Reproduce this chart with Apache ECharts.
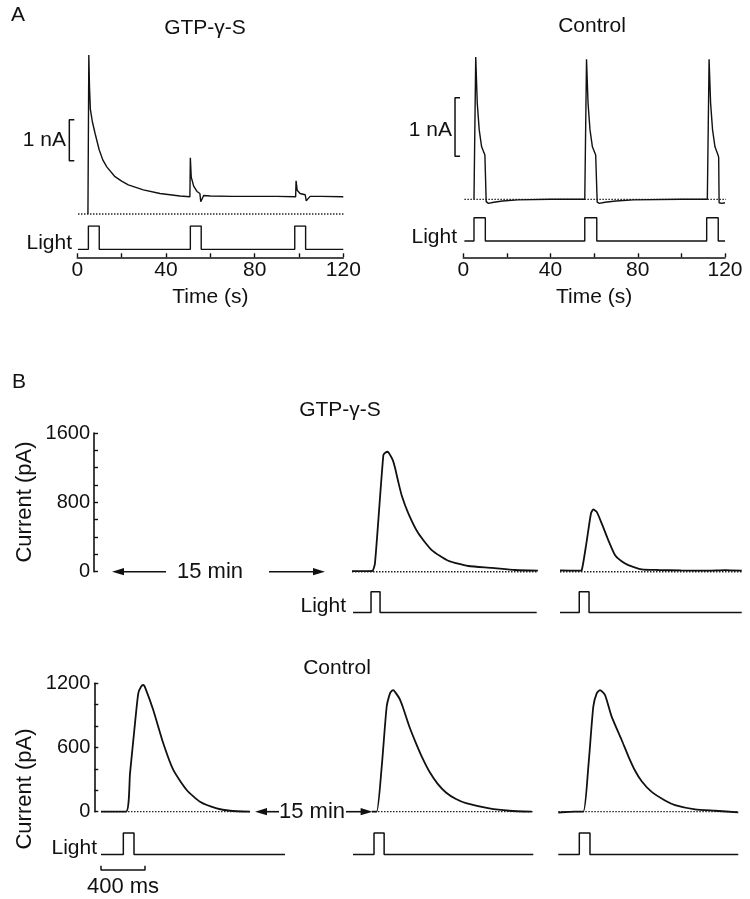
<!DOCTYPE html>
<html><head><meta charset="utf-8">
<script src="https://cdn.jsdelivr.net/npm/echarts@6/dist/echarts.min.js"></script>
<style>html,body{margin:0;padding:0;background:#fff}#c{width:750px;height:899px}</style>
</head><body><div id="c"></div>
<script>
// ===== Panel A : time (s), current (nA) =====
const gtpA_t  = [4.8, 5.0, 5.2, 5.5, 5.9, 6.8, 8.0, 9.9, 11.5, 13.3, 17, 20, 23, 29.8, 37.3, 46.3, 50.8, 51.0, 51.4, 52.5, 54, 55.3, 55.7, 56.2, 57, 60, 70, 80, 90, 98.5, 98.7, 99.2, 100.5, 102.8, 103.3, 104, 105, 110, 120];
const gtpA_nA = [0, 0, 3.88, 3.1, 2.55, 2.25, 1.97, 1.56, 1.32, 1.15, 0.91, 0.8, 0.71, 0.59, 0.5, 0.44, 0.42, 1.37, 0.9, 0.68, 0.55, 0.5, 0.3, 0.34, 0.45, 0.44, 0.43, 0.43, 0.43, 0.42, 0.81, 0.58, 0.5, 0.47, 0.32, 0.36, 0.43, 0.43, 0.42];
const ctlA_t  = [4.9, 5.7, 6.4, 7.3, 8.4, 9.9, 10.3, 10.5, 11.5, 14, 18, 25, 40, 55.7, 56.5, 57.2, 58.1, 59.2, 60.7, 61.2, 61.4, 62.4, 65, 70, 78, 100, 111.9, 112.7, 113.4, 114.3, 115.4, 116.8, 117.1, 117.3, 118.5, 120];
const ctlA_nA = [0, 2.44, 1.65, 1.19, 0.9, 0.76, 0.74, -0.04, -0.07, -0.05, -0.03, -0.01, 0, 0, 2.4, 1.65, 1.19, 0.9, 0.76, 0.74, -0.05, -0.07, -0.05, -0.03, -0.01, 0, 0, 2.4, 1.65, 1.19, 0.9, 0.76, 0.72, -0.06, -0.07, -0.06];
const gtpA_lightOn  = [5.0, 51.0, 98.1];
const gtpA_lightOff = [9.9, 55.9, 103.0];
const ctlA_lightOn  = [4.9, 55.7, 111.6];
const ctlA_lightOff = [10.1, 61.2, 116.9];
const timeTicksA = [0, 40, 80, 120];
const scaleBarA_nA = 1;

// ===== Panel B : time (ms from sweep start), current (pA) =====
const gtpB2_t  = [0, 150, 186, 209, 285, 305, 325, 345, 370, 391, 420, 452, 512, 603, 725, 875, 1057, 1270, 1482, 1690];
const gtpB2_pA = [8, 8, 10, 100, 1345, 1375, 1384, 1350, 1290, 1200, 1040, 880, 674, 443, 250, 127, 66, 45, 20, 12];
const gtpB3_t  = [0, 180, 197, 240, 282, 303, 334, 379, 439, 500, 560, 621, 742, 894, 1100, 1348, 1500, 1652];
const gtpB3_pA = [15, 12, 15, 330, 674, 718, 690, 557, 365, 192, 120, 77, 28, 20, 15, 12, 18, 12];
const ctlB1_t  = [0, 227, 264, 309, 339, 365, 385, 405, 475, 566, 657, 779, 900, 1052, 1173, 1355];
const ctlB1_pA = [0, 0, 361, 826, 1106, 1170, 1184, 1150, 950, 639, 390, 203, 93, 31, 9, 0];
const ctlB2_t  = [173, 215, 261, 306, 336, 352, 367, 385, 421, 452, 513, 573, 634, 694, 770, 845, 936, 1027, 1239, 1421, 1625];
const ctlB2_pA = [0, 0, 420, 981, 1106, 1130, 1137, 1115, 1060, 981, 794, 639, 495, 375, 260, 180, 118, 80, 31, 9, 0];
const ctlB3_t  = [0, 30, 152, 227, 273, 318, 349, 379, 425, 485, 576, 636, 697, 758, 849, 970, 1061, 1243, 1425, 1636];
const ctlB3_pA = [-9, -5, 0, 0, 420, 981, 1106, 1137, 1090, 888, 670, 520, 385, 285, 185, 105, 62, 22, 9, -6];
const gtpB_lightStart = [9, 0];
const gtpB_lightOn    = [173, 175];
const gtpB_lightOff   = [255, 264];
const gtpB_lightEnd   = [1679, 1652];
const gtpB_baseline   = [[0, 1690], [0, 1652]];
const ctlB_lightOn    = [203, 191, 191];
const ctlB_lightOff   = [300, 283, 288];
const ctlB_lightEnd   = [1673, 1639, 1636];
const ctlB_baseline   = [[0, 1355], [173, 1639], [0, 1636]];
const ticksB_gtp = [0, 800, 1600];
const ticksB_ctl = [0, 600, 1200];
const scaleBarB_ms = 400;

// ===== helpers =====
const INK = '#111';
const DOT = { type: [1.5, 1.5], width: 1.3, color: '#222' };
const FONT = "'Liberation Sans', Arial, Helvetica, sans-serif";
const zip = (a, b) => a.map((v, i) => [v, b[i]]);
function steps(start, on, off, end) {
  const p = [[start, 0]];
  on.forEach((t, i) => { p.push([t, 0], [t, 1], [off[i], 1], [off[i], 0]); });
  p.push([end, 0]);
  return p;
}
const grids = [], xAxes = [], yAxes = [], series = [];
function addGrid(g, x, y) {
  const i = grids.length;
  grids.push(Object.assign({ containLabel: false }, g));
  xAxes.push(Object.assign({ gridIndex: i, type: 'value', show: false }, x));
  yAxes.push(Object.assign({ gridIndex: i, type: 'value', show: false }, y));
  return i;
}
function line(i, data, style, extra) {
  series.push(Object.assign({
    type: 'line', xAxisIndex: i, yAxisIndex: i, data: data, symbol: 'none', showSymbol: false,
    silent: true, animation: false,
    lineStyle: Object.assign({ color: INK, width: 1.3 }, style)
  }, extra || {}));
}
function timeAxisA(ticks) {
  return {
    show: true, min: 0, max: 120, interval: 20, position: 'bottom',
    axisLine: { show: true, onZero: false, lineStyle: { color: INK, width: 1.6 } },
    axisTick: { show: true, inside: true, length: 4, lineStyle: { color: INK, width: 1.4 } },
    axisLabel: { show: true, margin: 2, color: INK, fontSize: 21, fontFamily: FONT,
      formatter: v => ticks.indexOf(v) >= 0 ? String(v) : '' },
    splitLine: { show: false },
    name: 'Time (s)', nameLocation: 'middle', nameGap: 29,
    nameTextStyle: { color: INK, fontSize: 21, fontFamily: FONT }
  };
}
function currentAxisB(max, ticks) {
  return {
    show: true, min: 0, max: max, interval: 200, position: 'left',
    axisLine: { show: true, onZero: false, lineStyle: { color: INK, width: 1.6 } },
    axisTick: { show: true, inside: true, length: 4, lineStyle: { color: INK, width: 1.4 } },
    axisLabel: { show: true, margin: 4, color: INK, fontSize: 20, fontFamily: FONT,
      formatter: v => ticks.indexOf(v) >= 0 ? String(v) : '' },
    splitLine: { show: false }
  };
}

// ===== Panel A left: GTP-γ-S (current axis starts 5 s before 0 to hold the scale bar) =====
const pxPerSecL = 266 / 120, pxPerSecR = 261.7 / 120;
let g = addGrid({ left: 77.3 - 5 * pxPerSecL, top: 50, width: 125 * pxPerSecL, height: 184.5 }, { min: -5, max: 120 }, { min: -0.5, max: 4 });
line(g, [[0.3, 0], [120.4, 0]], DOT);
line(g, zip(gtpA_t, gtpA_nA), { width: 1.4 });
line(g, [[-1.35, 1.3], [-3.6, 1.3], [-3.6, 1.3 + scaleBarA_nA], [-1.35, 1.3 + scaleBarA_nA]], { width: 1.5 });
g = addGrid({ left: 77.3, top: 226, width: 266, height: 31.3 }, timeAxisA(timeTicksA), { min: -0.34, max: 1 });
line(g, steps(0.3, gtpA_lightOn, gtpA_lightOff, 120), { width: 1.4 });

// ===== Panel A right: Control =====
g = addGrid({ left: 463.3 - 5 * pxPerSecR, top: 47.7, width: 125 * pxPerSecR, height: 169.1 }, { min: -5, max: 120 }, { min: -0.3, max: 2.6 });
line(g, [[0.5, 0], [120.5, 0]], DOT, { clip: false });
line(g, zip(ctlA_t, ctlA_nA), { width: 1.4 });
line(g, [[-1.5, 0.74], [-3.8, 0.74], [-3.8, 0.74 + scaleBarA_nA], [-1.5, 0.74 + scaleBarA_nA]], { width: 1.5 });
g = addGrid({ left: 463.3, top: 217.7, width: 261.7, height: 39.6 }, timeAxisA(timeTicksA), { min: -0.7, max: 1 });
line(g, steps(0.5, ctlA_lightOn, ctlA_lightOff, 120), { width: 1.4 });

// ===== Panel B top: GTP-γ-S =====
addGrid({ left: 94, top: 433, width: 240, height: 138.7 }, { min: 0, max: 1000 }, currentAxisB(1600, ticksB_gtp));
const gtpTraces = [zip(gtpB2_t, gtpB2_pA), zip(gtpB3_t, gtpB3_pA)];
[352, 560].forEach((left, k) => {
  const c = addGrid({ left: left, top: 433, width: 187, height: 147.4 }, { min: 0, max: 1700 }, { min: -100, max: 1600 });
  line(c, [[gtpB_baseline[k][0], 0], [gtpB_baseline[k][1], 0]], DOT);
  line(c, gtpTraces[k], { width: 1.8 }, { smooth: 0.2 });
  const l = addGrid({ left: left, top: 589.6, width: 187, height: 25 }, { min: 0, max: 1700 }, { min: -0.1, max: 1.1 });
  line(l, steps(gtpB_lightStart[k], [gtpB_lightOn[k]], [gtpB_lightOff[k]], gtpB_lightEnd[k]), { width: 1.5 });
});

// ===== Panel B bottom: Control =====
addGrid({ left: 94.3, top: 683.3, width: 10, height: 128.4 }, { min: 0, max: 1000 }, currentAxisB(1200, ticksB_ctl));
const ctlTraces = [zip(ctlB1_t, ctlB1_pA), zip(ctlB2_t, ctlB2_pA), zip(ctlB3_t, ctlB3_pA)];
[101, 353, 558.3].forEach((left, k) => {
  const c = addGrid({ left: left, top: 683.3, width: 187, height: 139.1 }, { min: 0, max: 1700 }, { min: -100, max: 1200 });
  line(c, [[ctlB_baseline[k][0], 0], [ctlB_baseline[k][1], 0]], DOT);
  line(c, ctlTraces[k], { width: 1.8 }, { smooth: 0.2 });
  const l = addGrid({ left: left, top: 830.85, width: 187, height: 25.8 }, { min: 0, max: 1700 }, { min: -0.1, max: 1.1 });
  line(l, steps(0, [ctlB_lightOn[k]], [ctlB_lightOff[k]], ctlB_lightEnd[k]), { width: 1.5 });
  if (k === 0) {
    line(l, [[0, -0.52], [0, -0.72], [scaleBarB_ms, -0.72], [scaleBarB_ms, -0.52]], { width: 1.5 }, { clip: false });
  }
});

// ===== annotations =====
function txt(text, x, y, size, align, extra) {
  return Object.assign({
    type: 'text', x: x, y: y, silent: true,
    style: { text: text, x: 0, y: 0, font: size + 'px ' + FONT, fill: INK,
      align: align || 'center', verticalAlign: 'middle', textAlign: align || 'center', textVerticalAlign: 'middle' }
  }, extra || {});
}
function arrowHead(tipX, y, dir) {
  const b = tipX - dir * 12;
  return { type: 'polygon', silent: true, shape: { points: [[tipX, y], [b, y - 3.6], [b, y + 3.6]] }, style: { fill: INK } };
}
function hline(x1, x2, y) {
  return { type: 'line', silent: true, shape: { x1: x1, y1: y, x2: x2, y2: y }, style: { stroke: INK, lineWidth: 1.6 } };
}
const graphics = [
  txt('A', 18, 15, 21),
  txt('GTP-\u03b3-S', 205, 28, 21),
  txt('Control', 592, 26, 21),
  txt('1 nA', 66, 140, 21, 'right'),
  txt('1 nA', 452, 130, 21, 'right'),
  txt('Light', 72, 243, 21, 'right'),
  txt('Light', 457, 237, 21, 'right'),
  txt('B', 19, 382, 21),
  txt('GTP-\u03b3-S', 340, 410, 21),
  txt('Current (pA)', 25, 502, 22, 'center', { rotation: Math.PI / 2 }),
  txt('15 min', 210, 572, 22),
  hline(120, 166, 571.7), arrowHead(112, 571.7, -1),
  hline(269, 316, 571.7), arrowHead(325, 571.7, 1),
  txt('Light', 346, 606, 21, 'right'),
  txt('Control', 337, 668, 21),
  txt('Current (pA)', 25, 789, 22, 'center', { rotation: Math.PI / 2 }),
  txt('15 min', 312, 812, 22),
  hline(264, 279, 811.7), arrowHead(255, 811.7, -1),
  hline(346, 363, 811.7), arrowHead(372.6, 811.7, 1),
  txt('Light', 97, 848, 21, 'right'),
  txt('400 ms', 123, 887, 22)
];

const chart = echarts.init(document.getElementById('c'), null, { renderer: 'canvas' });
chart.setOption({
  backgroundColor: '#fff',
  animation: false,
  grid: grids, xAxis: xAxes, yAxis: yAxes, series: series,
  graphic: { elements: graphics }
});
</script></body></html>
